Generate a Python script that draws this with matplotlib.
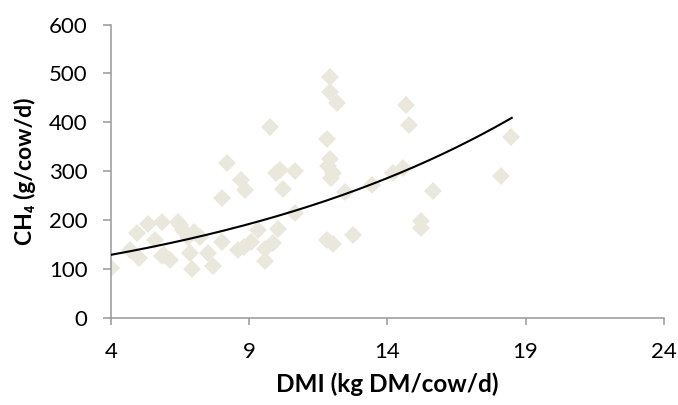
import numpy as np
import matplotlib.pyplot as plt

# DMI (kg DM/cow/d) and CH4 (g/cow/d)
dmi = [4.0, 4.69, 4.93, 5.0, 5.35, 5.59, 5.83, 5.83, 5.9, 6.15,
       6.43, 6.5, 6.61, 6.79, 6.86, 6.92, 7.0, 7.22, 7.52, 7.7,
       8.0, 8.0, 8.2, 8.6, 8.72, 8.84, 8.8, 9.08, 9.32, 9.57,
       9.57, 9.75, 9.87, 9.96, 10.1, 10.05, 10.23, 10.65, 10.65, 11.8,
       11.8, 11.92, 11.92, 12.16, 11.92, 11.85, 12.04, 11.97, 12.04, 12.46,
       12.76, 13.45, 14.2, 14.57, 14.66, 14.78, 15.23, 15.23, 15.66, 18.12,
       18.48]
ch4 = [103, 140, 173, 122, 193, 160, 197, 127, 129, 119,
       197, 190, 180, 166, 133, 100, 175, 166, 133, 106,
       155, 245, 316, 139, 282, 262, 146, 155, 180, 142,
       117, 391, 153, 297, 303, 181, 264, 301, 214, 365,
       160, 493, 463, 439, 325, 310, 297, 287, 152, 258,
       170, 271, 296, 307, 436, 395, 198, 185, 260, 290,
       371]

# exponential trendline y = a*exp(b*x), coefficients
trend_a = 94.0
trend_b = 0.0795
trend_range = (4.0, 18.5)

xticks = [4, 9, 14, 19, 24]
yticks = [0, 100, 200, 300, 400, 500, 600]

plt.rcParams['font.family'] = ['Lato', 'DejaVu Sans']

fig = plt.figure(figsize=(6.78, 4.05), dpi=100)
ax = fig.add_axes([0.1637, 0.2148, 0.8153, 0.7247])

ax.plot(dmi, ch4, linestyle='none', marker='D', markersize=9,
        color='#EAE8DC', markeredgewidth=0, zorder=2)

xs = np.linspace(trend_range[0], trend_range[1], 200)
ax.plot(xs, trend_a * np.exp(trend_b * xs), color='black', linewidth=1.5, zorder=3)

ax.set_xlim(4, 24)
ax.set_ylim(0, 600)
ax.set_xticks(xticks)
ax.set_yticks(yticks)

for side in ['top', 'right']:
    ax.spines[side].set_visible(False)
for side in ['left', 'bottom']:
    ax.spines[side].set_color('#999999')
    ax.spines[side].set_linewidth(1.1)

ax.tick_params(axis='both', colors='#999999', labelcolor='black', labelsize=16, width=1.1)
ax.tick_params(axis='y', length=6, pad=11)
ax.tick_params(axis='x', length=5, pad=12)

ax.set_xlabel('DMI (kg DM/cow/d)', fontsize=17.5, fontweight='bold', labelpad=8)
ax.set_ylabel('CH₄ (g/cow/d)', fontsize=16.5, fontweight='bold', labelpad=9)

fig.savefig('out.png', dpi=100)
